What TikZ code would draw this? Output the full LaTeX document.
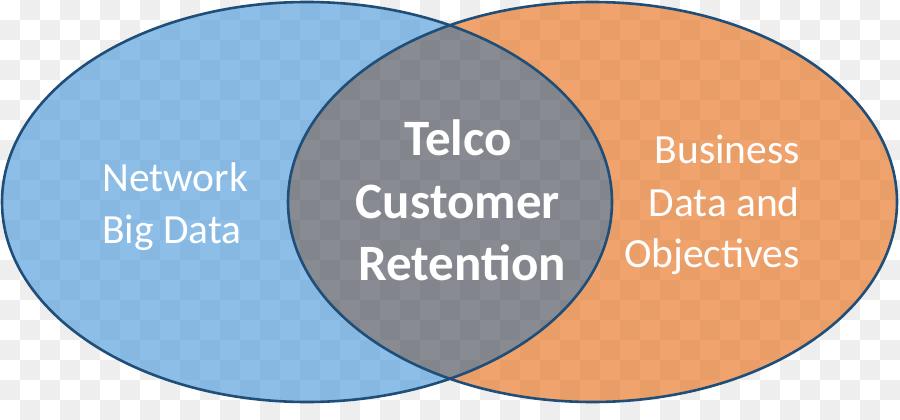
\documentclass[tikz,border=0pt]{standalone}
\usepackage{fontspec}
\setmainfont{Carlito}
\definecolor{chk}{RGB}{238,238,238}
\definecolor{bluef}{RGB}{65,148,217}
\definecolor{orangef}{RGB}{230,103,13}
\definecolor{grayf}{RGB}{58,63,73}
\definecolor{edgec}{RGB}{31,78,121}
\tikzset{
  lbl/.style={text=white, inner sep=0pt, font=\fontsize{41.5}{50}\selectfont},
  ctr/.style={text=white, inner sep=0pt, font=\fontsize{51}{60}\selectfont\bfseries},
  edge/.style={draw=edgec, line width=2.6pt},
  region/.style={fill opacity=0.6}
}
\def\leftE{(307,202) ellipse [x radius=305pt, y radius=200pt]}
\def\rightE{(592.5,202) ellipse [x radius=304.5pt, y radius=200pt]}
\begin{document}
\begin{tikzpicture}[x=1pt,y=-1pt]
\useasboundingbox (0,0) rectangle (900,420);
\fill[white] (0,0) rectangle (900,420);
\foreach \j in {0,2,...,20}
  \foreach \i in {1,3,...,43}
    \fill[chk] (\i*20,\j*20) rectangle ++(20,20);
\foreach \j in {1,3,...,19}
  \foreach \i in {0,2,...,44}
    \fill[chk] (\i*20,\j*20) rectangle ++(20,20);
\begin{scope}
  \clip \leftE;
  \fill[bluef, region, even odd rule] \leftE \rightE;
\end{scope}
\begin{scope}
  \clip \rightE;
  \fill[orangef, region, even odd rule] \leftE \rightE;
\end{scope}
\begin{scope}
  \clip \leftE;
  \fill[grayf, region] \rightE;
\end{scope}
\draw[edge] \leftE;
\draw[edge] \rightE;
\node[lbl, anchor=base west] (n1) at (102,191) {Network};
\node[lbl, anchor=base west] (n2) at (102,243) {Big Data};
\node[lbl, anchor=base east] (b1) at (800,163) {Business};
\node[lbl, anchor=base east] (b2) at (800,216) {Data and};
\node[lbl, anchor=base east] (b3) at (800,267) {Objectives};
\node[ctr, anchor=base] (c1) at (458,155) {Telco};
\node[ctr, anchor=base] (c2) at (458,218) {Customer};
\node[ctr, anchor=base] (c3) at (462,280) {Retention};
\end{tikzpicture}
\end{document}
